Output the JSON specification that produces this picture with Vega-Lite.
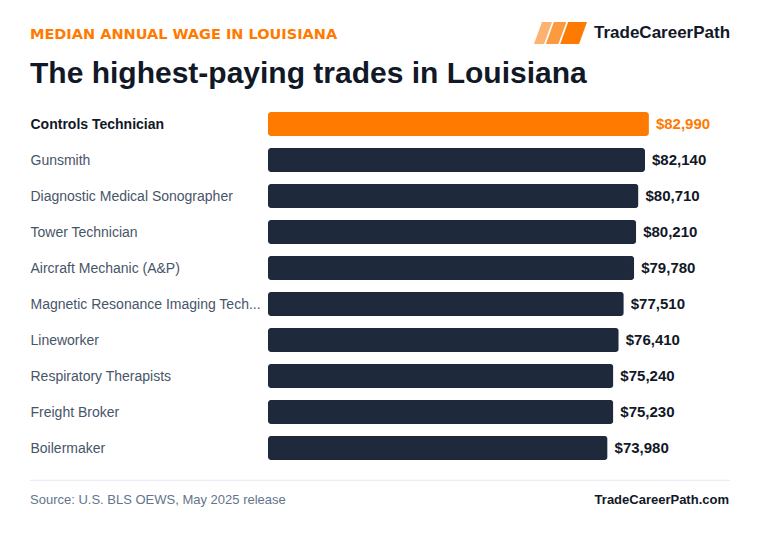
{
  "$schema": "https://vega.github.io/schema/vega-lite/v6.json",
  "width": 459,
  "height": 360,
  "autosize": {"type": "none"},
  "padding": {"left": 268, "top": 106, "right": 33, "bottom": 70},
  "background": "#ffffff",
  "config": {"view": {"stroke": null}, "font": "Liberation Sans"},
  "layer": [
    {
      "data": {
        "values": [
          {"trade": "Controls Technician", "wage": 82990},
          {"trade": "Gunsmith", "wage": 82140},
          {"trade": "Diagnostic Medical Sonographer", "wage": 80710},
          {"trade": "Tower Technician", "wage": 80210},
          {"trade": "Aircraft Mechanic (A&P)", "wage": 79780},
          {"trade": "Magnetic Resonance Imaging Tech...", "wage": 77510},
          {"trade": "Lineworker", "wage": 76410},
          {"trade": "Respiratory Therapists", "wage": 75240},
          {"trade": "Freight Broker", "wage": 75230},
          {"trade": "Boilermaker", "wage": 73980}
        ]
      },
      "encoding": {
        "y": {
          "field": "trade",
          "type": "nominal",
          "sort": null,
          "scale": {"paddingInner": 0.333, "paddingOuter": 0.1667},
          "axis": {
            "title": null,
            "domain": false,
            "ticks": false,
            "grid": false,
            "labelAlign": "left",
            "labelPadding": 238,
            "labelOffset": 1,
            "labelFontSize": 14,
            "labelLimit": 300,
            "labelFont": "Liberation Sans",
            "labelColor": {"condition": {"test": "datum.value === 'Controls Technician'", "value": "#111827"}, "value": "#475569"},
            "labelFontWeight": {"condition": {"test": "datum.value === 'Controls Technician'", "value": "bold"}, "value": "normal"}
          }
        },
        "x": {
          "field": "wage",
          "type": "quantitative",
          "scale": {"domain": [0, 100000], "nice": false},
          "axis": null
        }
      },
      "layer": [
        {
          "mark": {"type": "bar", "cornerRadius": 3},
          "encoding": {
            "color": {"condition": {"test": "datum.trade === 'Controls Technician'", "value": "#ff7a00"}, "value": "#1e293b"}
          }
        },
        {
          "mark": {"type": "text", "align": "left", "baseline": "middle", "dx": 7, "fontSize": 15, "fontWeight": "bold", "font": "Liberation Sans"},
          "encoding": {
            "text": {"field": "wage", "type": "quantitative", "format": "$,.0f"},
            "color": {"condition": {"test": "datum.trade === 'Controls Technician'", "value": "#ff7a00"}, "value": "#111827"}
          }
        }
      ]
    },
    {
      "data": {"values": [{"label": "MEDIAN ANNUAL WAGE IN LOUISIANA"}]},
      "mark": {"type": "text", "align": "left", "baseline": "alphabetic", "font": "DejaVu Sans", "fontSize": 14.5, "fontWeight": "bold", "color": "#ff7a00"},
      "encoding": {"text": {"field": "label"}, "x": {"value": -238}, "y": {"value": -67}}
    },
    {
      "data": {"values": [{"label": "The highest-paying trades in Louisiana"}]},
      "mark": {"type": "text", "align": "left", "baseline": "alphabetic", "font": "Liberation Sans", "fontSize": 30, "fontWeight": "bold", "color": "#111827"},
      "encoding": {"text": {"field": "label"}, "x": {"value": -238}, "y": {"value": -22.7}}
    },
    {
      "data": {"values": [{"part": "a"}, {"part": "b"}, {"part": "c"}]},
      "mark": {"type": "point", "filled": true, "opacity": 1, "size": 2809},
      "encoding": {
        "x": {"value": 292.5},
        "y": {"value": -73},
        "shape": {"field": "part", "type": "nominal", "legend": null, "scale": {"range": [
          "M -0.70 -0.415 L -0.32 -0.415 L -0.62 0.415 L -1.0 0.415 Z",
          "M -0.25 -0.415 L 0.22 -0.415 L -0.08 0.415 L -0.55 0.415 Z",
          "M 0.29 -0.415 L 1.0 -0.415 L 0.70 0.415 L -0.01 0.415 Z"
        ]}},
        "color": {"field": "part", "type": "nominal", "legend": null, "scale": {"range": ["#fdb272", "#fb9a3f", "#ff7a00"]}}
      }
    },
    {
      "data": {"values": [{"label": "TradeCareerPath"}]},
      "mark": {"type": "text", "align": "left", "baseline": "alphabetic", "font": "Liberation Sans", "fontSize": 17, "fontWeight": "bold", "color": "#111827"},
      "encoding": {"text": {"field": "label"}, "x": {"value": 326}, "y": {"value": -67.7}}
    },
    {
      "data": {"values": [{}]},
      "mark": {"type": "rule", "color": "#e5e7f0", "strokeWidth": 1},
      "encoding": {"x": {"value": -238}, "x2": {"value": 462}, "y": {"value": 374.3}}
    },
    {
      "data": {"values": [{"label": "Source: U.S. BLS OEWS, May 2025 release"}]},
      "mark": {"type": "text", "align": "left", "baseline": "alphabetic", "font": "Liberation Sans", "fontSize": 13, "color": "#64748b"},
      "encoding": {"text": {"field": "label"}, "x": {"value": -238}, "y": {"value": 398}}
    },
    {
      "data": {"values": [{"label": "TradeCareerPath.com"}]},
      "mark": {"type": "text", "align": "right", "baseline": "alphabetic", "font": "Liberation Sans", "fontSize": 13, "fontWeight": "bold", "color": "#111827"},
      "encoding": {"text": {"field": "label"}, "x": {"value": 461}, "y": {"value": 398}}
    }
  ]
}
